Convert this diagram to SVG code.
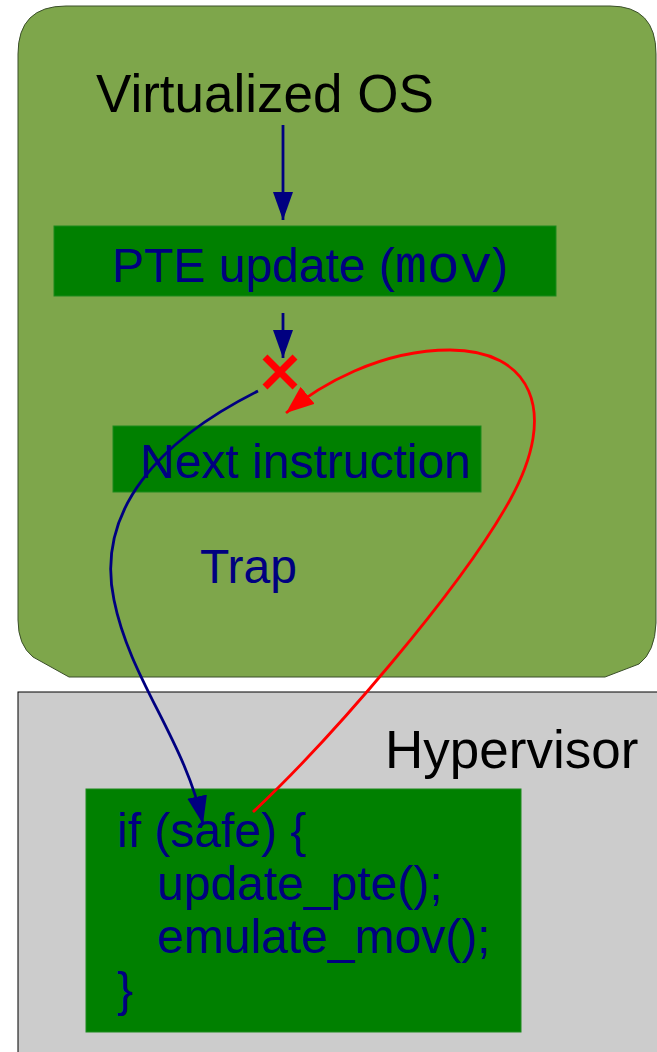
<svg xmlns="http://www.w3.org/2000/svg" width="657" height="1052" viewBox="0 0 657 1052">
<style>
.t{font-family:"Liberation Sans",Arial,sans-serif;font-size:48px;fill:#000080}
.h{font-family:"Liberation Sans",Arial,sans-serif;font-size:53px;fill:#000000}
.m{font-family:"Liberation Mono","Courier New",monospace;fill:#000080}
.box{fill:#008000;stroke:#1d8a1d;stroke-width:1}
.nv{fill:none;stroke:#000080;stroke-width:2.8}
.rd{fill:none;stroke:#ff0000;stroke-width:2.8}
</style>
<defs>
<marker id="an" markerUnits="userSpaceOnUse" markerWidth="30" markerHeight="24" refX="28" refY="10" orient="auto"><path d="M0,0 L28,10 L0,20 Z" fill="#000080"/></marker>
<marker id="ar" markerUnits="userSpaceOnUse" markerWidth="30" markerHeight="26" refX="28" refY="11" orient="auto"><path d="M0,0 L28,11 L0,22 Z" fill="#ff0000"/></marker>
</defs>
<g id="vos">
<path d="M18,54 Q18,6 66,6 L610,6 Q656,6 656,54 L656,623 Q655,652 639,664 L605,677 L69,677 L33,657 Q18,645 18,620 Z" fill="#7ea64b" stroke="#3b4f2a" stroke-width="1"/>
<text class="h" x="96" y="112">Virtualized OS</text>
</g>
<g id="hyp">
<rect x="18" y="692" width="660" height="380" fill="#cccccc" stroke="#000" stroke-width="1"/>
<text class="h" x="385" y="768">Hypervisor</text>
</g>
<g id="pte">
<rect class="box" x="54" y="226" width="502" height="70"/>
<text class="t" x="112" y="282">PTE update (<tspan class="m" font-size="54">mov</tspan>)</text>
</g>
<g id="next">
<rect class="box" x="113" y="426" width="368" height="66"/>
<text class="t" x="140" y="478">Next instruction</text>
</g>
<g id="trap">
<text class="t" x="200" y="583">Trap</text>
</g>
<g id="code">
<rect class="box" x="86" y="789" width="435" height="243"/>
<text class="t" x="117" y="847">if (safe) {</text>
<text class="t" x="157" y="900">update_pte();</text>
<text class="t" x="157" y="953">emulate_mov();</text>
<text class="t" x="117" y="1006">}</text>
</g>
<g id="fault">
<path d="M265,357 L295,387 M295,357 L265,387" stroke="#ff0000" stroke-width="7" fill="none"/>
</g>
<g id="connectors">
<path class="nv" d="M283,125 L283,220" marker-end="url(#an)"/>
<path class="nv" d="M283,313 L283,358" marker-end="url(#an)"/>
<path class="nv" d="M258,391 C160,440 95,510 114,600 C130,680 185,740 203,824" marker-end="url(#an)"/>
<path class="rd" d="M253,812 C330,740 460,590 510,500 C560,410 530,350 450,350 C380,350 320,385 286,413" marker-end="url(#ar)"/>
</g>
</svg>
